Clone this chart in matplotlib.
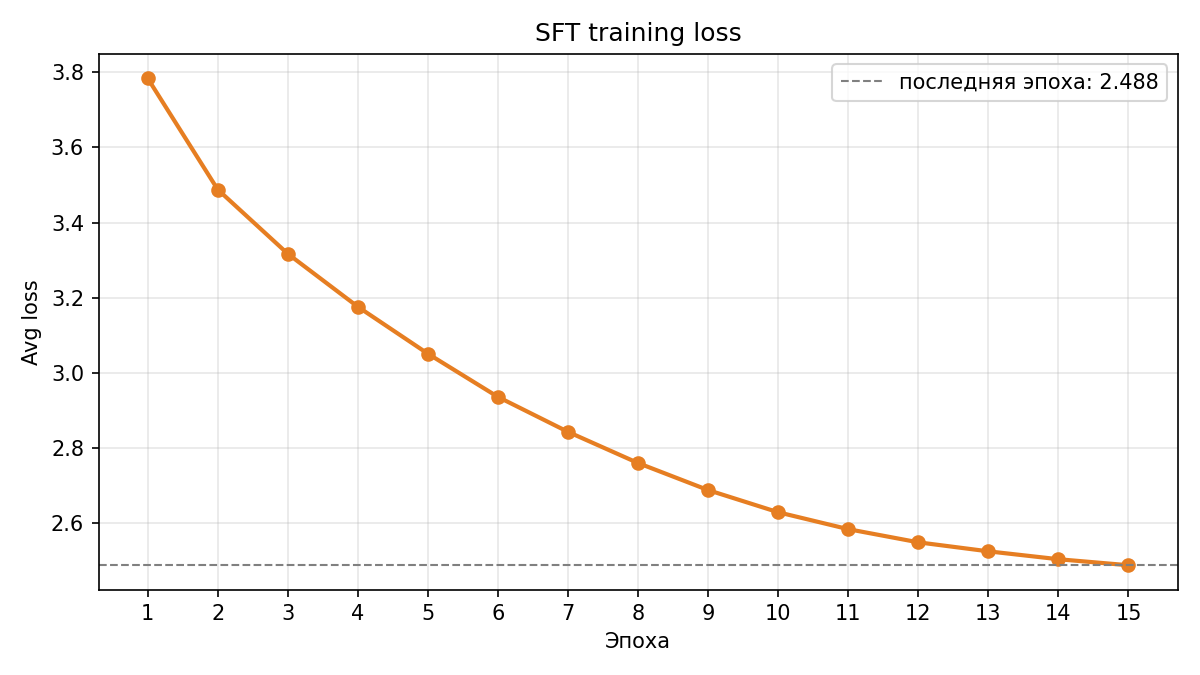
import matplotlib
matplotlib.use("Agg")
import matplotlib.pyplot as plt

epochs = list(range(1, 16))
avg_loss = [3.784, 3.488, 3.317, 3.176, 3.051, 2.936, 2.843, 2.760,
            2.688, 2.629, 2.584, 2.549, 2.525, 2.504, 2.488]
last_loss = avg_loss[-1]

fig, ax = plt.subplots(figsize=(8, 4.5), dpi=150)
ax.plot(epochs, avg_loss, marker="o", color="#e67e22", linewidth=2, markersize=6)
ax.axhline(last_loss, color="gray", linestyle="--", linewidth=1,
           label=f"последняя эпоха: {last_loss:.3f}")
ax.set_title("SFT training loss")
ax.set_xlabel("Эпоха")
ax.set_ylabel("Avg loss")
ax.set_xticks(epochs)
ax.grid(True, alpha=0.3)
ax.legend(loc="upper right")
fig.tight_layout()
fig.savefig("out.png")
